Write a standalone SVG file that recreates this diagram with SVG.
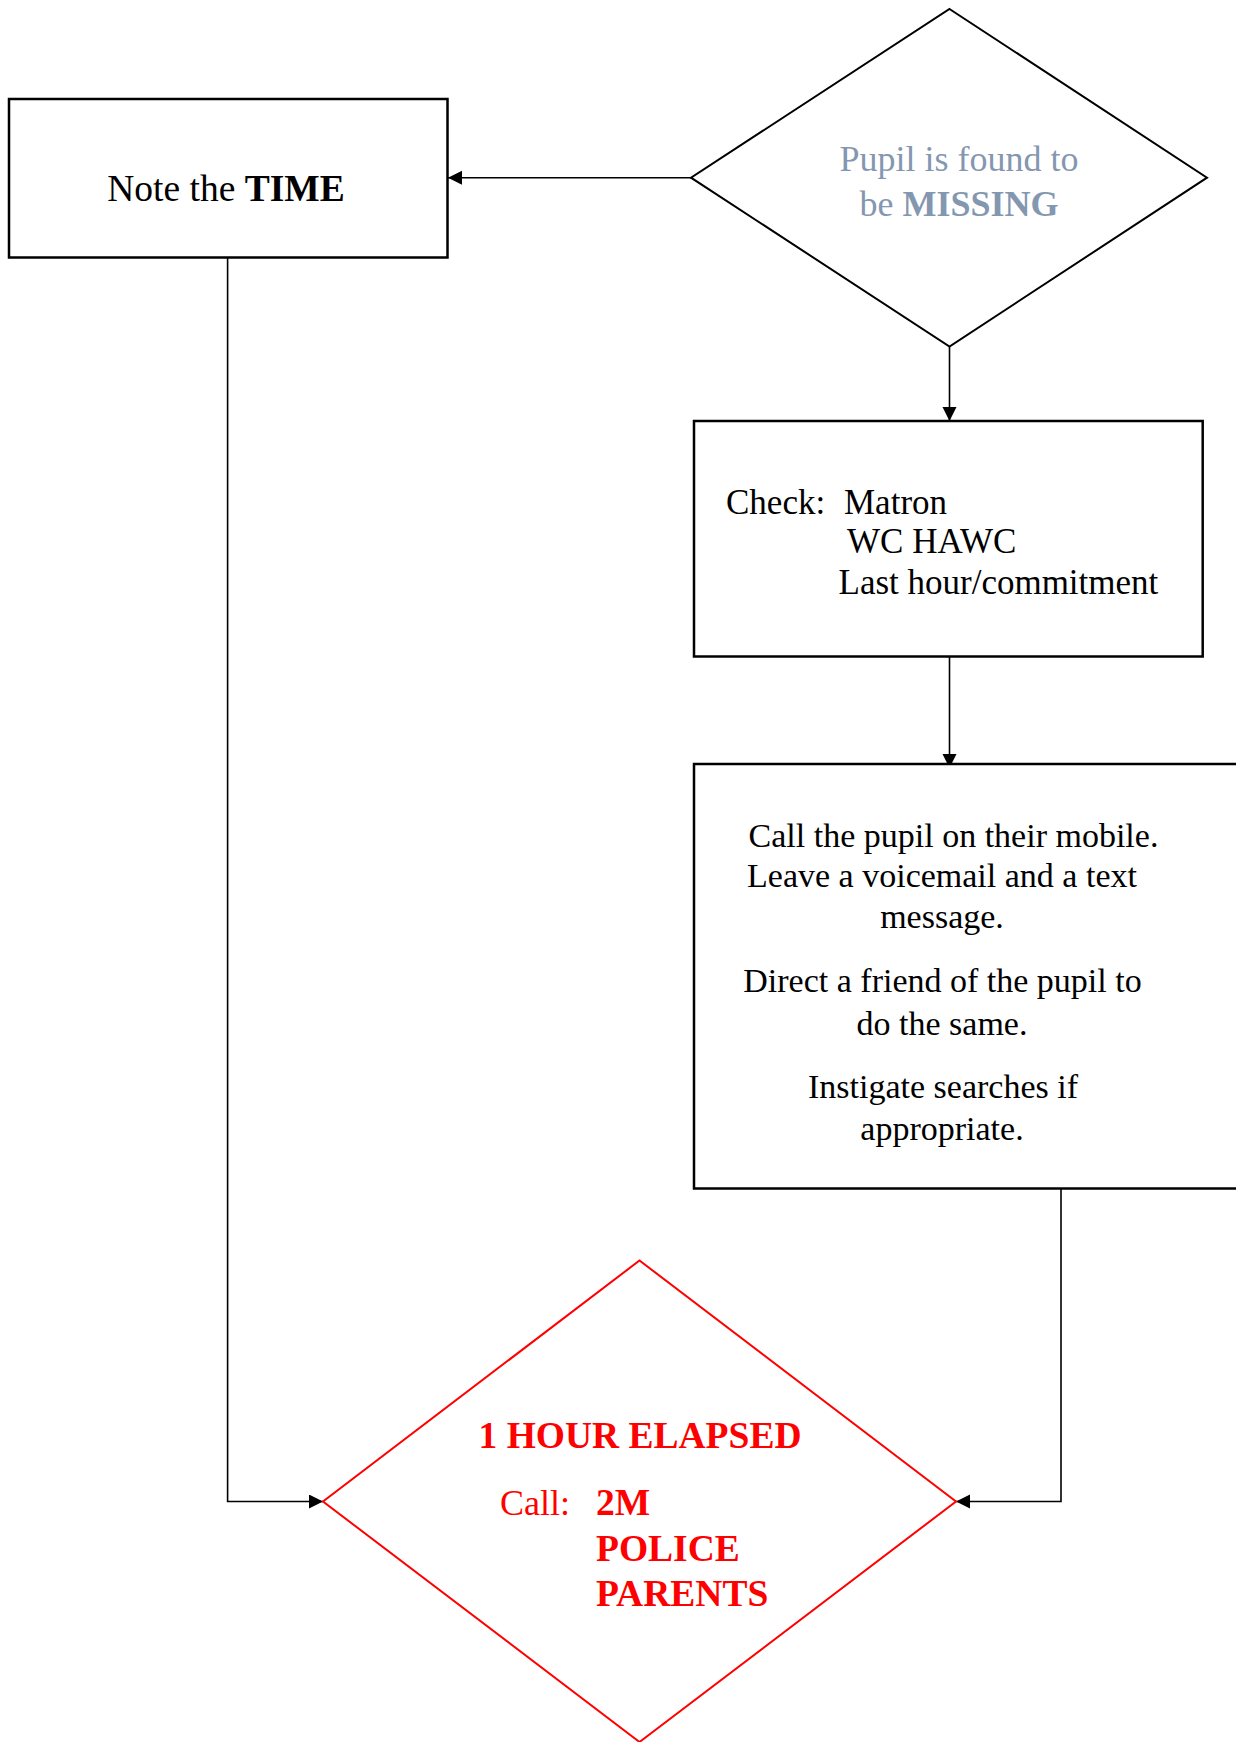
<svg xmlns="http://www.w3.org/2000/svg" width="1236" height="1742" viewBox="0 0 1236 1742">
<style>
.box{fill:#fff;stroke:#000;stroke-width:2.5}
.dia{fill:#fff;stroke:#000;stroke-width:2}
.rdia{fill:#fff;stroke:#ff0000;stroke-width:2}
.conn{fill:none;stroke:#000;stroke-width:1.6}
text{font-family:"Liberation Serif","Times New Roman",serif;font-size:34px;fill:#000}
.b{font-weight:bold}
.blue{fill:#8497b0}
.red{fill:#ff0000}
</style>
<defs>
<marker id="arr" markerUnits="userSpaceOnUse" markerWidth="16" markerHeight="16" refX="14" refY="7" orient="auto">
<path d="M0,0 L14,7 L0,14 Z" fill="#000"/>
</marker>
</defs>
<g id="connectors">
<line class="conn" x1="691" y1="177.7" x2="448" y2="177.7" marker-end="url(#arr)"/>
<line class="conn" x1="949.5" y1="346.5" x2="949.5" y2="421" marker-end="url(#arr)"/>
<line class="conn" x1="949.5" y1="657" x2="949.5" y2="768" marker-end="url(#arr)"/>
<polyline class="conn" points="227.6,257.6 227.6,1501.5 323,1501.5" marker-end="url(#arr)"/>
<polyline class="conn" points="1061,1188 1061,1501.5 956,1501.5" marker-end="url(#arr)"/>
</g>
<g id="note-time">
<rect class="box" x="9" y="99" width="438.5" height="158.5"/>
<text x="226" y="201" text-anchor="middle" style="font-size:37.5px">Note the <tspan class="b">TIME</tspan></text>
</g>
<g id="missing">
<polygon class="dia" points="949.5,9 1207,177.7 949.5,346.5 691,177.7"/>
<text class="blue" x="959" y="171" text-anchor="middle" style="font-size:36px">Pupil is found to</text>
<text class="blue" x="959" y="216" text-anchor="middle" style="font-size:36px">be <tspan class="b">MISSING</tspan></text>
</g>
<g id="check">
<rect class="box" x="694" y="421" width="508.7" height="235.5"/>
<text x="726" y="514" style="font-size:35px">Check:</text>
<text x="844" y="514" style="font-size:35px">Matron</text>
<text x="847" y="553" style="font-size:35px">WC HAWC</text>
<text x="838.5" y="594" style="font-size:35px">Last hour/commitment</text>
</g>
<g id="call-pupil">
<rect class="box" x="694" y="764" width="560" height="424.5"/>
<text x="953.5" y="847" text-anchor="middle">Call the pupil on their mobile.</text>
<text x="942" y="887" text-anchor="middle">Leave a voicemail and a text</text>
<text x="942" y="928" text-anchor="middle">message.</text>
<text x="942.5" y="992" text-anchor="middle">Direct a friend of the pupil to</text>
<text x="942" y="1035" text-anchor="middle">do the same.</text>
<text x="943" y="1098" text-anchor="middle">Instigate searches if</text>
<text x="942" y="1140" text-anchor="middle">appropriate.</text>
</g>
<g id="hour-elapsed">
<polygon class="rdia" points="639.5,1260.5 956,1501.5 639.5,1742 323,1501.5"/>
<text class="red b" x="640" y="1448" text-anchor="middle" style="font-size:37.5px">1 HOUR ELAPSED</text>
<text class="red" x="500" y="1515" style="font-size:36px">Call:</text>
<text class="red b" x="596" y="1515" style="font-size:37.5px">2M</text>
<text class="red b" x="596" y="1561" style="font-size:37.5px">POLICE</text>
<text class="red b" x="596" y="1606" style="font-size:37.5px">PARENTS</text>
</g>
</svg>
